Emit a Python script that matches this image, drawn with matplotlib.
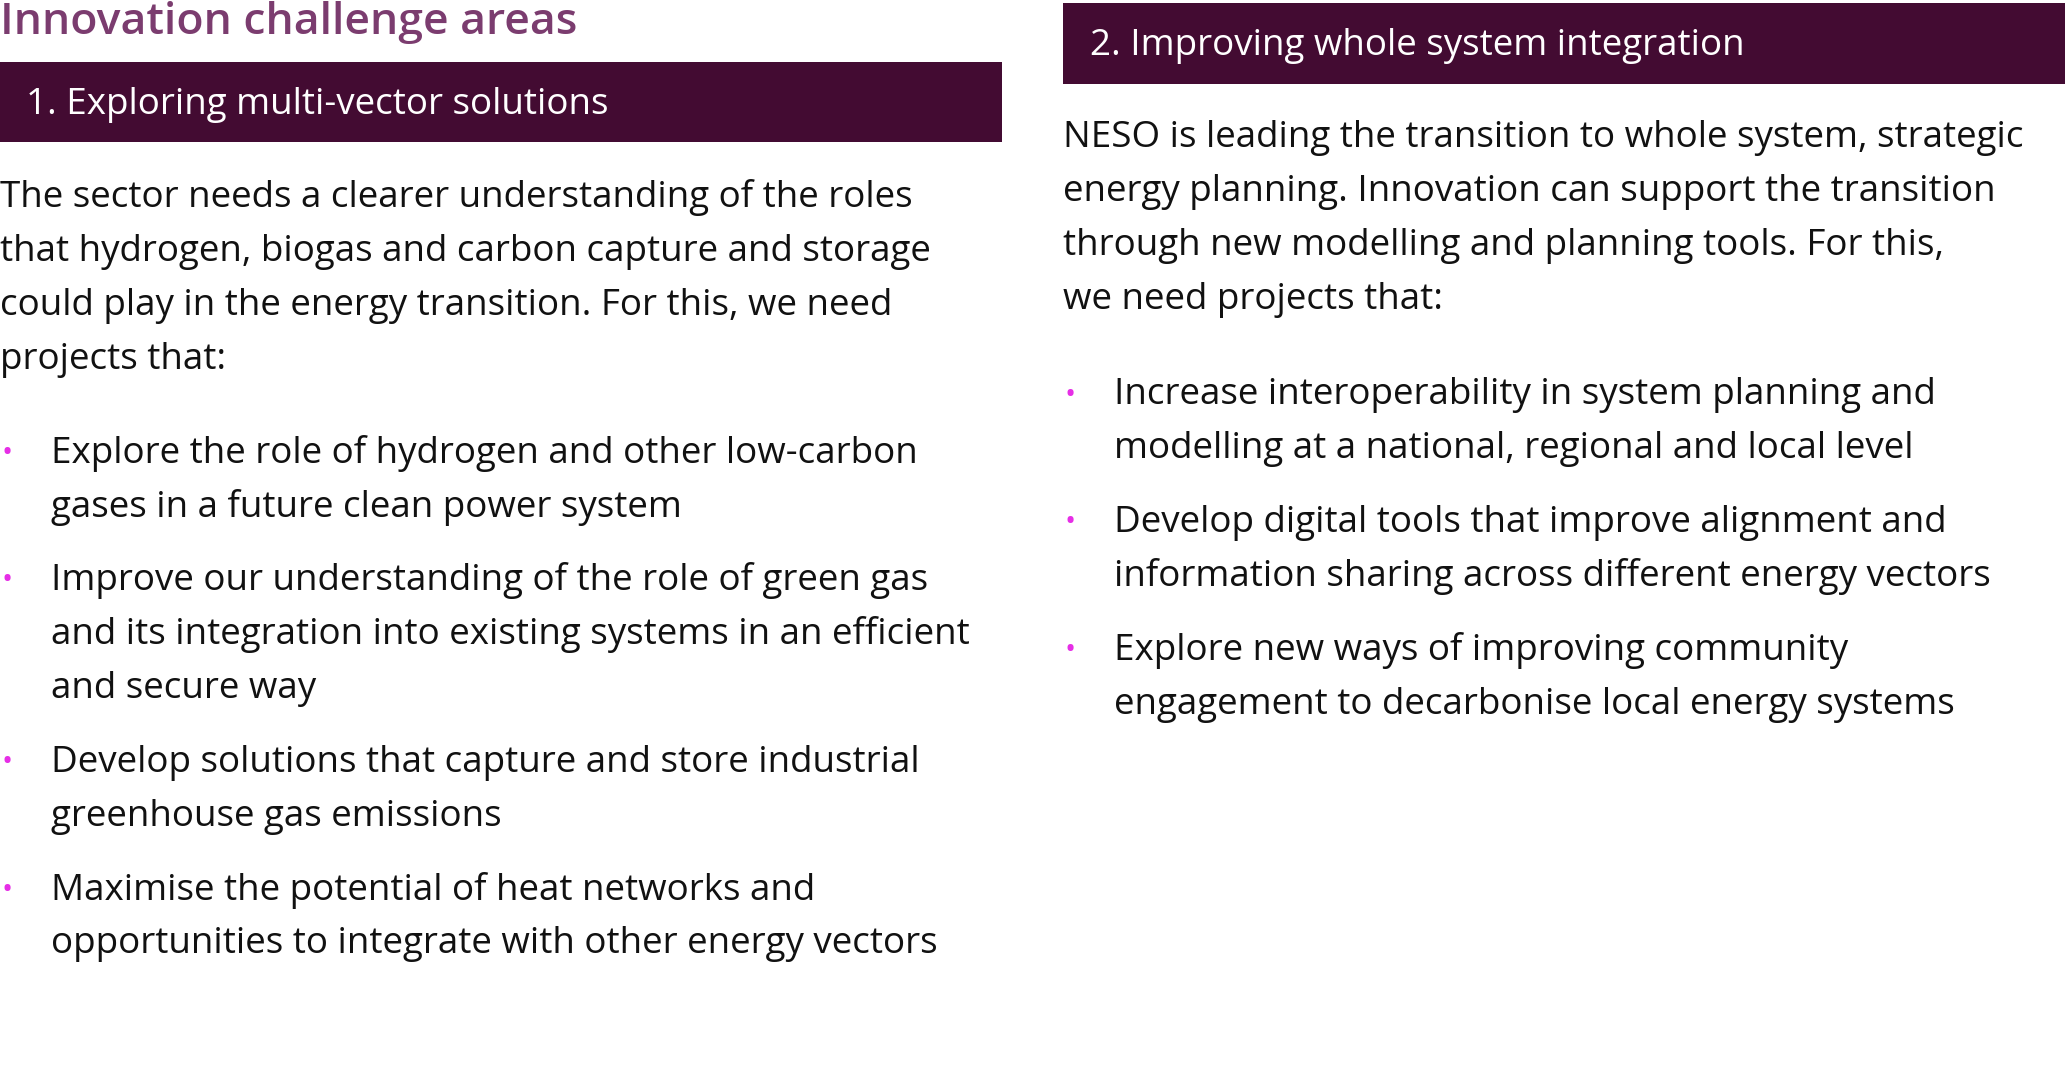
import matplotlib
matplotlib.use("Agg")
import matplotlib.pyplot as plt
from matplotlib.patches import Rectangle

W, H = 2065, 1075
FONT = ['Open Sans', 'DejaVu Sans']

title = "Innovation challenge areas"
header_left = "1. Exploring multi-vector solutions"
header_right = "2. Improving whole system integration"
intro_left = ["The sector needs a clearer understanding of the roles",
              "that hydrogen, biogas and carbon capture and storage",
              "could play in the energy transition. For this, we need",
              "projects that:"]
bullets_left = [["Explore the role of hydrogen and other low-carbon",
                 "gases in a future clean power system"],
                ["Improve our understanding of the role of green gas",
                 "and its integration into existing systems in an efficient",
                 "and secure way"],
                ["Develop solutions that capture and store industrial",
                 "greenhouse gas emissions"],
                ["Maximise the potential of heat networks and",
                 "opportunities to integrate with other energy vectors"]]
intro_right = ["NESO is leading the transition to whole system, strategic",
               "energy planning. Innovation can support the transition",
               "through new modelling and planning tools. For this,",
               "we need projects that:"]
bullets_right = [["Increase interoperability in system planning and",
                  "modelling at a national, regional and local level"],
                 ["Develop digital tools that improve alignment and",
                  "information sharing across different energy vectors"],
                 ["Explore new ways of improving community",
                  "engagement to decarbonise local energy systems"]]

fig = plt.figure(figsize=(W/100, H/100), dpi=100)
ax = fig.add_axes([0, 0, 1, 1])
ax.set_xlim(0, 1568)
ax.set_ylim(1568*H/W, 0)
ax.axis('off')

DARK = '#430b32'
PINK = '#e62ee6'
FS = 26.5

ax.text(0, 17, title, color='#7b3c6f', fontsize=32, fontweight='semibold',
        va='center', ha='left', family=FONT)

ax.add_patch(Rectangle((0, 47), 761, 61, color=DARK, lw=0))
ax.add_patch(Rectangle((807, 2), 761, 62, color=DARK, lw=0))
ax.text(20, 80, header_left, color='white', fontsize=FS, va='center', family=FONT)
ax.text(828, 35, header_right, color='white', fontsize=FS, va='center', family=FONT)

LH = 41

def column(x0, y0, intro, bullets, ybul):
    for i, line in enumerate(intro):
        ax.text(x0, y0 + i*LH, line, fontsize=FS, va='center', color='#111111', family=FONT)
    y = ybul
    for b in bullets:
        ax.text(x0 + 1, y, "•", fontsize=FS*0.8, va='center', color=PINK, family=FONT)
        for j, line in enumerate(b):
            ax.text(x0 + 39, y + j*LH, line, fontsize=FS, va='center', color='#111111', family=FONT)
        y += len(b)*LH + 15

column(0, 150, intro_left, bullets_left, 344)
column(807, 105, intro_right, bullets_right, 300)

fig.savefig("out.png", dpi=100)
